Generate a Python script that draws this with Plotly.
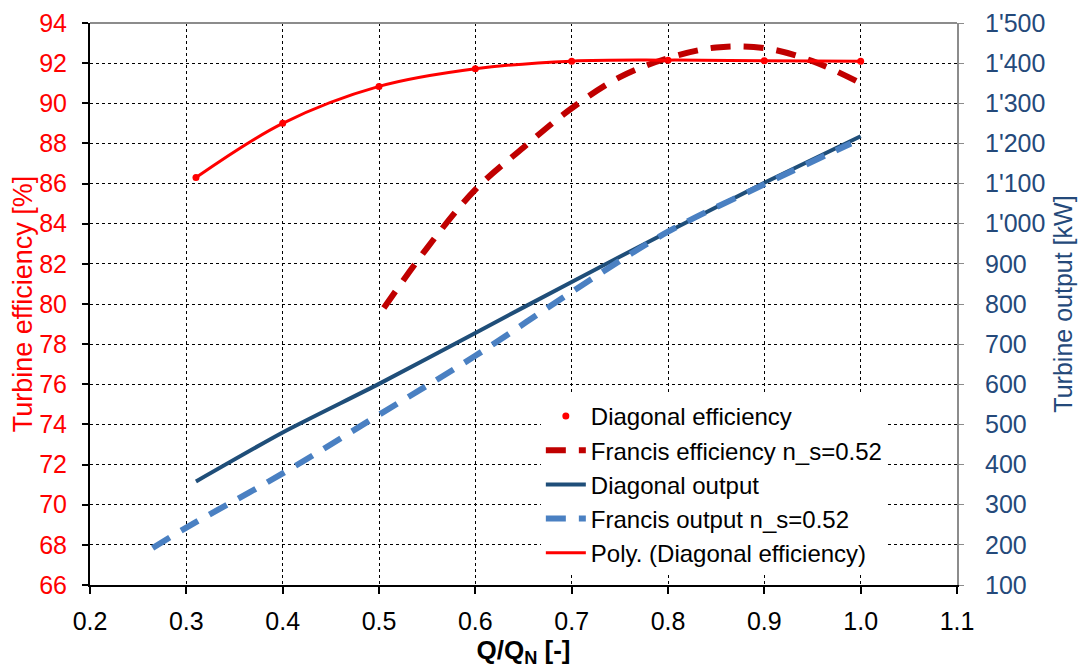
import plotly.graph_objects as go

# ---------------- data ----------------
diag_eff_q = [0.31, 0.4, 0.5, 0.6, 0.7, 0.8, 0.9, 1.0]
diag_eff = [86.3, 89.0, 90.84, 91.72, 92.1, 92.15, 92.12, 92.1]

francis_eff_q = [0.505, 0.55, 0.6, 0.65, 0.7, 0.75, 0.8, 0.85, 0.9, 0.95, 1.0]
francis_eff = [79.8, 82.8, 85.7, 87.8, 89.75, 91.3, 92.25, 92.78, 92.75, 92.1, 91.0]

diag_out_q = [0.31, 0.4, 0.5, 0.6, 0.7, 0.8, 0.9, 1.0]
diag_out = [358, 480, 601, 728, 855, 980, 1102, 1218]

francis_out_q = [0.265, 0.3, 0.4, 0.5, 0.6, 0.7, 0.8, 0.9, 0.99]
francis_out = [192, 243, 378, 524, 671, 830, 980, 1098, 1200]

x_ticks = [0.2, 0.3, 0.4, 0.5, 0.6, 0.7, 0.8, 0.9, 1.0, 1.1]
left_ticks = list(range(66, 95, 2))
right_ticks = list(range(100, 1501, 100))
right_ticktext = [f"{v // 1000}'{v % 1000:03d}" if v >= 1000 else str(v) for v in right_ticks]

# ---------------- style ----------------
RED = "#FF0000"
DARKRED = "#C00000"
NAVY = "#1F4E79"
LIGHTBLUE = "#4A80C2"
RIGHT_TXT = "#24497A"
FONT = "Liberation Sans, Arial, sans-serif"

fig = go.Figure()

fig.add_trace(go.Scatter(
    x=diag_eff_q, y=diag_eff, mode="markers", name="Diagonal efficiency",
    marker=dict(color=RED, size=7), yaxis="y"))

fig.add_trace(go.Scatter(
    x=francis_eff_q, y=francis_eff, mode="lines", name="Francis efficiency n_s=0.52",
    line=dict(color=DARKRED, width=6, dash="20px,13px", shape="spline"), yaxis="y"))

fig.add_trace(go.Scatter(
    x=diag_out_q, y=diag_out, mode="lines", name="Diagonal output",
    line=dict(color=NAVY, width=4, shape="spline", smoothing=0.6), yaxis="y2"))

fig.add_trace(go.Scatter(
    x=francis_out_q, y=francis_out, mode="lines", name="Francis output n_s=0.52",
    line=dict(color=LIGHTBLUE, width=6, dash="20px,13px", shape="spline"), yaxis="y2"))

fig.add_trace(go.Scatter(
    x=diag_eff_q, y=diag_eff, mode="lines", name="Poly. (Diagonal efficiency)",
    line=dict(color=RED, width=3, shape="spline"), yaxis="y"))

# page body adds an 8px offset, so the figure is 8px smaller and margins compensate
fig.update_layout(
    width=1080, height=660,
    margin=dict(l=82, r=131, t=15, b=83),
    paper_bgcolor="white", plot_bgcolor="white",
    font=dict(family=FONT, size=24, color="black"),
    xaxis=dict(
        range=[0.2, 1.1], tickvals=x_ticks, ticktext=[f"{v:.1f}" for v in x_ticks],
        showgrid=True, gridcolor="black", gridwidth=1, griddash="dot",
        showline=True, linecolor="black", linewidth=2,
        ticks="outside", ticklen=7, tickwidth=2, tickcolor="black",
        tickfont=dict(size=25, color="black"), ticklabelstandoff=6,
        ticklabeloverflow="allow",
        title=dict(text="<b>Q/Q<sub>N</sub> [-]</b>", font=dict(size=26, color="black"), standoff=8),
        zeroline=False, automargin=False,
    ),
    yaxis=dict(
        range=[66, 94], tickvals=left_ticks,
        showgrid=True, gridcolor="black", gridwidth=1, griddash="dot",
        showline=True, linecolor="black", linewidth=2,
        ticks="outside", ticklen=6, tickwidth=2, tickcolor="black",
        tickfont=dict(size=25, color=RED), ticklabelstandoff=10,
        ticklabeloverflow="allow",
        title=dict(text="Turbine efficiency [%]", font=dict(size=27, color=RED), standoff=2),
        zeroline=False, automargin=False,
    ),
    yaxis2=dict(
        range=[100, 1500], tickvals=right_ticks, ticktext=right_ticktext,
        overlaying="y", side="right", showgrid=False,
        showline=True, linecolor="#8C8C8C", linewidth=2,
        ticks="outside", ticklen=5, tickwidth=1, tickcolor="#8C8C8C",
        tickfont=dict(size=25, color=RIGHT_TXT), ticklabelstandoff=16,
        ticklabeloverflow="allow",
        title=dict(text="Turbine output [kW]", font=dict(size=25, color=RIGHT_TXT), standoff=10),
        zeroline=False, automargin=False,
    ),
    legend=dict(
        x=0.52, y=0.34, xanchor="left", yanchor="top",
        bgcolor="white", borderwidth=0,
        font=dict(size=24, color="black"),
        tracegroupgap=0, itemwidth=40,
    ),
    showlegend=True,
    shapes=[dict(type="line", xref="paper", yref="paper", x0=0, x1=1, y0=1, y1=1,
                 line=dict(color="#8C8C8C", width=2))],
)

fig.write_html("out.html")
